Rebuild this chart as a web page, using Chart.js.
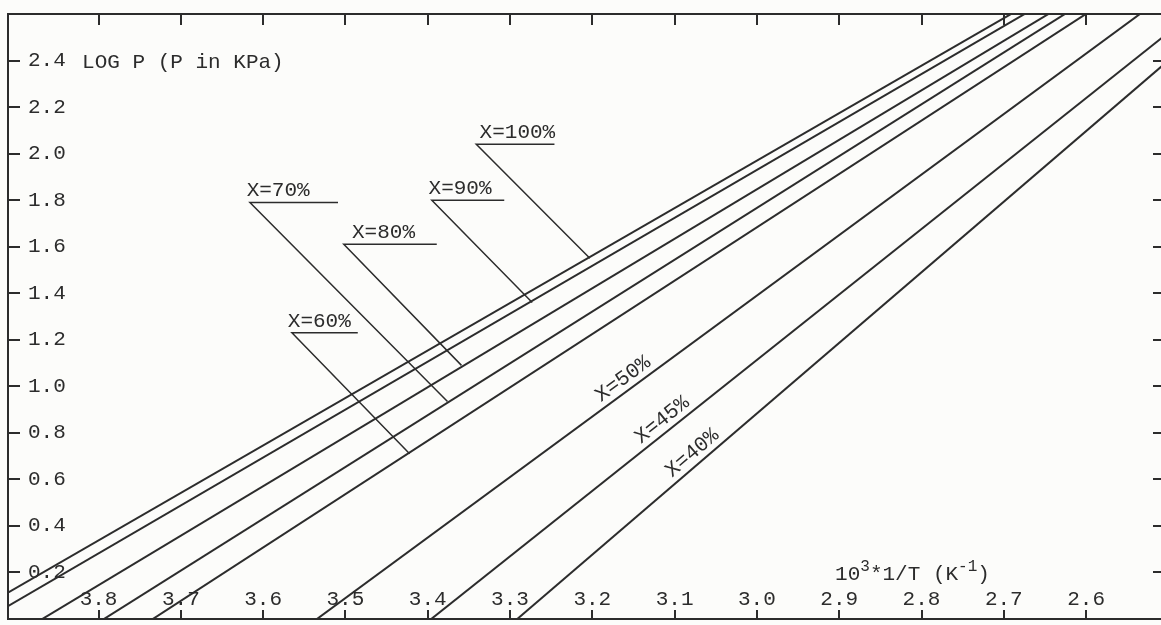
<!DOCTYPE html>
<html>
<head>
<meta charset="utf-8">
<title>LOG P vs 1/T</title>
<script src="https://cdn.jsdelivr.net/npm/chart.js@4.4.1/dist/chart.umd.min.js"></script>
<style>
  html, body { margin: 0; padding: 0; background: #fcfcfa; }
  #wrap { width: 1161px; height: 625px; position: relative; }
</style>
</head>
<body>
<div id="wrap"><canvas id="vaporChart"></canvas></div>
<script>
// ---- Data ----
const invT = [4.0, 2.5];            // 10^3 * 1/T (K^-1) at both ends of each line
const logP100 = [-0.07, 2.99];
const logP90 = [-0.13, 2.96];
const logP80 = [-0.28, 2.91];
const logP70 = [-0.46, 2.88];
const logP60 = [-0.61, 2.83];
const logP50 = [-1.21, 2.69];
const logP45 = [-1.70, 2.52];
const logP40 = [-2.15, 2.40];
const seriesNames = ['X=100%', 'X=90%', 'X=80%', 'X=70%', 'X=60%', 'X=50%', 'X=45%', 'X=40%'];

const xTicks = [3.8, 3.7, 3.6, 3.5, 3.4, 3.3, 3.2, 3.1, 3.0, 2.9, 2.8, 2.7, 2.6];
const yTicks = [0.2, 0.4, 0.6, 0.8, 1.0, 1.2, 1.4, 1.6, 1.8, 2.0, 2.2, 2.4];

// labels with underline + leader line (data units)
const tagNames = ['X=100%', 'X=90%', 'X=80%', 'X=70%', 'X=60%'];
const tagTextX = [3.337, 3.399, 3.492, 3.620, 3.570];
const tagLeftX = [3.341, 3.395, 3.502, 3.616, 3.565];
const tagRightX = [3.246, 3.307, 3.389, 3.509, 3.485];
const tagY = [2.04, 1.80, 1.61, 1.79, 1.23];
const tagEndX = [3.203, 3.273, 3.359, 3.376, 3.422];
const tagEndY = [1.55, 1.36, 1.09, 0.935, 0.71];

// labels written along the lines
const slantNames = ['X=50%', 'X=45%', 'X=40%'];
const slantSeries = [5, 6, 7];
const slantAt = [3.154, 3.106, 3.069];

const yTitle = 'LOG P (P in KPa)';
const yTitleAt = [3.82, 2.39];
const xTitleParts = [['10', false], ['3', true], ['*1/T (K', false], ['-1', true], [')', false]];
const xTitleAt = [2.905, 0.19];

const INK = '#2c2c2c';
const FONT_FAMILY = '"Liberation Mono", "DejaVu Sans Mono", monospace';
const tickFont = { family: FONT_FAMILY, size: 21 };

// ---- Datasets ----
const curves = [logP100, logP90, logP80, logP70, logP60, logP50, logP45, logP40];

const curveDatasets = curves.map((vals, i) => ({
  label: seriesNames[i],
  data: invT.map((t, j) => ({ x: t, y: vals[j] })),
  borderColor: INK,
  borderWidth: 2,
  pointRadius: 0,
  tension: 0,
  fill: false
}));

const leaderDatasets = tagNames.map((name, i) => ({
  label: name + ' leader',
  data: [
    { x: tagRightX[i], y: tagY[i] },
    { x: tagLeftX[i], y: tagY[i] },
    { x: tagEndX[i], y: tagEndY[i] }
  ],
  borderColor: INK,
  borderWidth: 1.5,
  pointRadius: 0,
  tension: 0,
  fill: false
}));

// ---- Text drawn on the plot area ----
const paperText = {
  id: 'paperText',
  afterDraw(chart) {
    const { ctx, scales: { x, y } } = chart;
    ctx.save();
    ctx.fillStyle = INK;
    ctx.font = '21px ' + FONT_FAMILY;

    ctx.textAlign = 'left';
    ctx.textBaseline = 'middle';
    ctx.fillText(yTitle, x.getPixelForValue(yTitleAt[0]), y.getPixelForValue(yTitleAt[1]));

    // x title with superscripts
    let tx = x.getPixelForValue(xTitleAt[0]);
    const ty = y.getPixelForValue(xTitleAt[1]);
    xTitleParts.forEach(([text, sup]) => {
      ctx.font = (sup ? 16 : 21) + 'px ' + FONT_FAMILY;
      ctx.fillText(text, tx, sup ? ty - 8 : ty);
      tx += ctx.measureText(text).width;
    });

    ctx.font = '21px ' + FONT_FAMILY;
    ctx.textBaseline = 'alphabetic';
    tagNames.forEach((name, i) => {
      ctx.fillText(name, x.getPixelForValue(tagTextX[i]), y.getPixelForValue(tagY[i]) - 6);
    });

    ctx.textAlign = 'center';
    ctx.textBaseline = 'middle';
    slantNames.forEach((name, i) => {
      const vals = curves[slantSeries[i]];
      const x0 = x.getPixelForValue(invT[0]), y0 = y.getPixelForValue(vals[0]);
      const x1 = x.getPixelForValue(invT[1]), y1 = y.getPixelForValue(vals[1]);
      const ax = x.getPixelForValue(slantAt[i]);
      const ay = y0 + (ax - x0) / (x1 - x0) * (y1 - y0);
      ctx.save();
      ctx.translate(ax, ay);
      ctx.rotate(Math.atan2(y1 - y0, x1 - x0));
      ctx.fillText(name, 0, -12);
      ctx.restore();
    });
    ctx.restore();
  }
};

const setTicks = list => s => { s.ticks = list.map(v => ({ value: v })); };
const flatX = s => { s.height = 0; s.paddingLeft = 0; s.paddingRight = 0; };
const flatY = s => { s.width = 0; s.paddingTop = 0; s.paddingBottom = 0; };

new Chart(document.getElementById('vaporChart'), {
  type: 'line',
  data: { datasets: [...curveDatasets, ...leaderDatasets] },
  options: {
    responsive: true,
    maintainAspectRatio: false,
    animation: false,
    events: [],
    layout: { padding: { left: 8, top: 14, right: 0, bottom: 6 }, autoPadding: false },
    plugins: { legend: { display: false }, tooltip: { enabled: false } },
    scales: {
      x: {
        type: 'linear', position: 'bottom', reverse: true, min: 2.509, max: 3.91,
        afterBuildTicks: setTicks(xTicks),
        afterFit: flatX,
        ticks: { mirror: true, padding: 7, color: INK, font: tickFont, autoSkip: false, maxRotation: 0,
          callback: v => v.toFixed(1) },
        grid: { drawOnChartArea: false, drawTicks: true, tickLength: -9, color: INK, lineWidth: 2 },
        border: { display: true, color: INK, width: 2 }
      },
      x2: {
        type: 'linear', position: 'top', reverse: true, min: 2.509, max: 3.91,
        afterBuildTicks: setTicks(xTicks),
        afterFit: flatX,
        ticks: { display: false },
        grid: { drawOnChartArea: false, drawTicks: true, tickLength: -11, color: INK, lineWidth: 2 },
        border: { display: true, color: INK, width: 2 }
      },
      y: {
        type: 'linear', position: 'left', min: 0, max: 2.6,
        afterBuildTicks: setTicks(yTicks),
        afterFit: flatY,
        ticks: { mirror: true, padding: 20, color: INK, font: tickFont, callback: v => v.toFixed(1) },
        grid: { drawOnChartArea: false, drawTicks: true, tickLength: -12, color: INK, lineWidth: 2 },
        border: { display: true, color: INK, width: 2 }
      },
      y2: {
        type: 'linear', position: 'right', min: 0, max: 2.6,
        afterBuildTicks: setTicks(yTicks),
        afterFit: flatY,
        ticks: { display: false },
        grid: { drawOnChartArea: false, drawTicks: true, tickLength: -8, color: INK, lineWidth: 2 },
        border: { display: false }
      }
    }
  },
  plugins: [paperText]
});
</script>
</body>
</html>
